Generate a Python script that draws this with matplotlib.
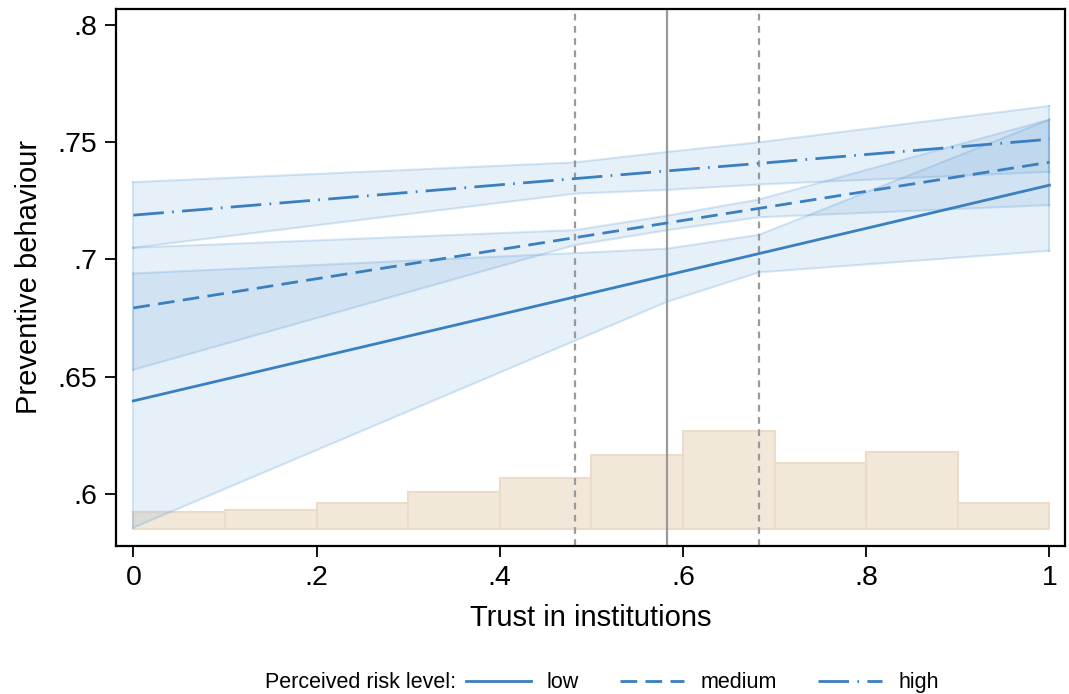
import matplotlib
matplotlib.use('Agg')
import matplotlib.pyplot as plt
import matplotlib.ticker as mticker
from matplotlib.lines import Line2D

plt.rcParams['font.family'] = ['Liberation Sans', 'DejaVu Sans']

# margins evaluated at 0, mean-sd, mean, mean+sd, 1
trust = [0.0, 0.482, 0.583, 0.683, 1.0]

low_fit = [0.6396, 0.6840, 0.6933, 0.7025, 0.7317]
low_lo  = [0.5855, 0.6653, 0.6820, 0.6945, 0.7037]
low_hi  = [0.6940, 0.7027, 0.7046, 0.7105, 0.7597]

med_fit = [0.6793, 0.7093, 0.7156, 0.7218, 0.7415]
med_lo  = [0.6529, 0.7061, 0.7125, 0.7180, 0.7232]
med_hi  = [0.7050, 0.7125, 0.7187, 0.7256, 0.7597]

high_fit = [0.7189, 0.7345, 0.7378, 0.7410, 0.7513]
high_lo  = [0.7050, 0.7281, 0.7297, 0.7320, 0.7374]
high_hi  = [0.7330, 0.7414, 0.7459, 0.7500, 0.7655]

trust_mean = 0.583
trust_sd_lo = 0.482
trust_sd_hi = 0.683

# histogram of trust (bars drawn above base)
hist_left = [0.0, 0.1, 0.2, 0.3, 0.4, 0.5, 0.6, 0.7, 0.8, 0.9]
hist_top = [0.5920, 0.5930, 0.5960, 0.6007, 0.6069, 0.6166, 0.6269, 0.6133, 0.6179, 0.5960]
hist_base = 0.5851

xticks = [0, 0.2, 0.4, 0.6, 0.8, 1]
xticklabels = ['0', '.2', '.4', '.6', '.8', '1']
yticks = [0.6, 0.65, 0.7, 0.75, 0.8]
yticklabels = ['.6', '.65', '.7', '.75', '.8']

blue = '#3a7fc0'
ci_face = '#5b9bd5'

fig = plt.figure(figsize=(10.69, 6.94), dpi=100)
ax = fig.add_axes([0.1088, 0.2137, 0.8875, 0.7733])

# histogram
heights = [t - hist_base for t in hist_top]
ax.bar(hist_left, heights, width=0.1, bottom=hist_base, align='edge',
       color='#f2e8da', edgecolor='#eadcc8', linewidth=1.5, zorder=1)

# reference lines
ax.axvline(trust_mean, color='#9a9a9a', lw=1.6, zorder=2)
ax.axvline(trust_sd_lo, color='#9a9a9a', lw=1.6, ls=(0, (3, 2.5)), zorder=2)
ax.axvline(trust_sd_hi, color='#9a9a9a', lw=1.6, ls=(0, (3, 2.5)), zorder=2)

# confidence bands
for lo, hi in [(low_lo, low_hi), (med_lo, med_hi), (high_lo, high_hi)]:
    ax.fill_between(trust, lo, hi, facecolor=ci_face, alpha=0.15,
                    edgecolor='none', zorder=3)
    ax.plot(trust, lo, color=ci_face, alpha=0.25, lw=1.5, zorder=3)
    ax.plot(trust, hi, color=ci_face, alpha=0.25, lw=1.5, zorder=3)
    ax.plot([trust[0], trust[0]], [lo[0], hi[0]], color=ci_face, alpha=0.25, lw=1.5, zorder=3)
    ax.plot([trust[-1], trust[-1]], [lo[-1], hi[-1]], color=ci_face, alpha=0.25, lw=1.5, zorder=3)

ls_low = '-'
ls_med = (0, (6, 3))
ls_high = (0, (11, 3, 0.6, 3))
ax.plot(trust, low_fit, color=blue, lw=2, ls=ls_low, zorder=4)
ax.plot(trust, med_fit, color=blue, lw=2, ls=ls_med, zorder=4)
ax.plot(trust, high_fit, color=blue, lw=2, ls=ls_high, zorder=4)

ax.set_xlim(-0.0186, 1.017)
ax.set_ylim(0.5778, 0.8069)

ax.xaxis.set_major_locator(mticker.FixedLocator(xticks))
ax.set_xticklabels(xticklabels)
ax.yaxis.set_major_locator(mticker.FixedLocator(yticks))
ax.set_yticklabels(yticklabels)
ax.tick_params(labelsize=20.5, length=8, width=1.3, pad=6, colors='black')

for s in ax.spines.values():
    s.set_linewidth(1.6)

ax.set_xlabel('Trust in institutions', fontsize=21, labelpad=9)
ax.set_ylabel('Preventive behaviour', fontsize=21, labelpad=10)

# legend
fig.text(265 / 1069, 0.016, 'Perceived risk level:', fontsize=15.5, va='center', ha='left')
handles = [Line2D([], [], color=blue, lw=2, ls=ls_low),
           Line2D([], [], color=blue, lw=2, ls=ls_med),
           Line2D([], [], color=blue, lw=2, ls=ls_high)]
fig.legend(handles, ['low', 'medium', 'high'], loc='center left',
           bbox_to_anchor=(466 / 1069, 0.016), ncol=3, frameon=False,
           fontsize=15.5, handlelength=3.0, handletextpad=0.75,
           columnspacing=1.9, borderpad=0, borderaxespad=0)

fig.savefig('out.png', dpi=100)
